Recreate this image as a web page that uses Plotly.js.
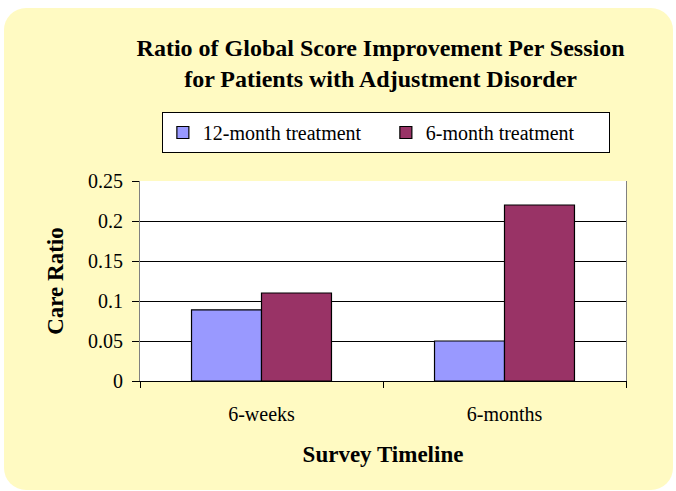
<!DOCTYPE html>
<html>
<head>
<meta charset="utf-8">
<script src="https://cdn.plot.ly/plotly-3.0.1.min.js"></script>
<style>
  html, body { margin: 0; padding: 0; background: #ffffff; }
  #wrap { position: relative; width: 676px; height: 491px; overflow: hidden; }
  #bg { position: absolute; left: 4px; top: 8px; width: 669px; height: 482px;
        background: #FFFAC2; border-radius: 22px; }
  #chart { position: absolute; left: 0; top: 0; width: 676px; height: 491px; }
</style>
</head>
<body>
<div id="wrap">
  <div id="bg"></div>
  <div id="chart"></div>
</div>
<script>
const categories = ["6-weeks", "6-months"];
const seriesNames = ["12-month treatment", "6-month treatment"];
const twelveMonth = [0.089, 0.05];
const sixMonth = [0.11, 0.22];
const yTickVals = [0, 0.05, 0.1, 0.15, 0.2, 0.25];
const yTickText = ["0", "0.05", "0.1", "0.15", "0.2", "0.25"];

const serif = "Liberation Serif";

const traces = [
  { type: "bar", name: seriesNames[0], x: categories, y: twelveMonth,
    marker: { color: "#9999FF", line: { color: "#000000", width: 1.2 } } },
  { type: "bar", name: seriesNames[1], x: categories, y: sixMonth,
    marker: { color: "#993366", line: { color: "#000000", width: 1.2 } } }
];

const layout = {
  width: 676, height: 491,
  paper_bgcolor: "rgba(0,0,0,0)",
  plot_bgcolor: "#ffffff",
  margin: { l: 140, r: 50, t: 181, b: 110 },
  barmode: "group",
  bargap: 0.424,
  bargroupgap: 0,
  font: { family: serif, color: "#000000", size: 20 },
  title: {
    text: "<b>Ratio of Global Score Improvement Per Session<br>for Patients with Adjustment Disorder</b>",
    font: { family: serif, size: 24, color: "#000000" },
    x: 0.563, xanchor: "center", yref: "container", y: 0.886, yanchor: "top"
  },
  showlegend: true,
  legend: {
    orientation: "h",
    x: 0.045, xanchor: "left", y: 1.345, yanchor: "top",
    bgcolor: "#ffffff", bordercolor: "#000000", borderwidth: 1,
    font: { family: serif, size: 20, color: "#000000" },
    entrywidth: 178, entrywidthmode: "pixels",
    itemwidth: 30
  },
  xaxis: {
    type: "category",
    showline: true, linecolor: "#000000", linewidth: 1, mirror: false,
    ticks: "outside", tickson: "boundaries", ticklen: 6, tickcolor: "#000000",
    ticklabelstandoff: 15,
    tickfont: { family: serif, size: 20 },
    title: { text: "<b>Survey Timeline</b>", font: { family: serif, size: 23 }, standoff: 21 },
    showgrid: false, zeroline: false
  },
  yaxis: {
    range: [0, 0.25],
    tickvals: yTickVals, ticktext: yTickText,
    showgrid: true, gridcolor: "#000000", gridwidth: 1,
    showline: true, linecolor: "#808080", linewidth: 1, mirror: true,
    ticks: "outside", ticklen: 7, tickcolor: "#000000",
    ticklabelstandoff: 5,
    tickfont: { family: serif, size: 20 },
    title: { text: "<b>Care Ratio</b>", font: { family: serif, size: 23 }, standoff: 17 },
    zeroline: false
  }
};

Plotly.newPlot("chart", traces, layout, { displayModeBar: false, staticPlot: true });
</script>
</body>
</html>
